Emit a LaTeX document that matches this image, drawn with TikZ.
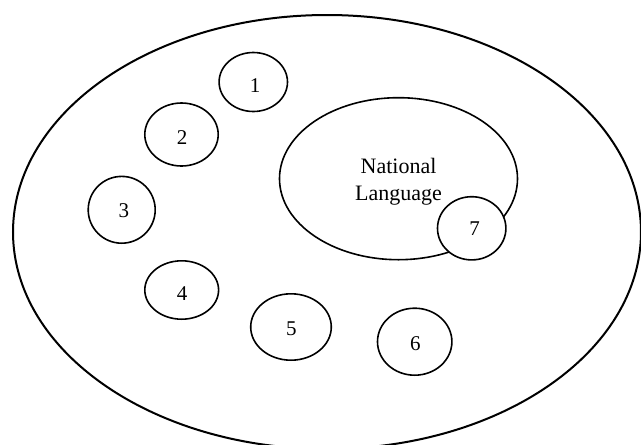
\documentclass[tikz,border=0pt]{standalone}
\usepackage{fontspec}
\setmainfont{Liberation Serif}
\usetikzlibrary{shapes.geometric}
\tikzset{
  blob/.style={draw=black, line width=1.6pt, ellipse, fill=white, inner sep=0pt},
  num/.style={inner sep=0pt, font=\fontsize{21}{25}\selectfont},
}
\begin{document}
\begin{tikzpicture}[x=1pt,y=-1pt]
\useasboundingbox (0,0) rectangle (641,445);
\clip (0,0) rectangle (641,445);
\node[draw=black, line width=2pt, ellipse, inner sep=0pt, minimum width=628pt, minimum height=434pt] (world) at (327,232) {};
\node[blob, minimum width=238pt, minimum height=162pt] (nl) at (398.5,178.7) {};
\node[inner sep=0pt, align=center, font=\fontsize{22}{27}\selectfont] (nltext) at (398.5,181.5) {National\\Language};
\node[blob, minimum width=68.4pt, minimum height=59pt] (c1) at (253.3,82) {};
\node[blob, minimum width=73.4pt, minimum height=63pt] (c2) at (181.5,134.5) {};
\node[blob, minimum width=67pt, minimum height=66.8pt] (c3) at (121.7,209.8) {};
\node[blob, minimum width=73.8pt, minimum height=58.4pt] (c4) at (181.7,290) {};
\node[blob, minimum width=80.6pt, minimum height=66.4pt] (c5) at (291,327) {};
\node[blob, minimum width=74.4pt, minimum height=67pt] (c6) at (414.7,341.7) {};
\node[blob, minimum width=68.4pt, minimum height=63.2pt] (c7) at (471.7,228.3) {};
\node[num] (t1) at (255,85.5) {1};
\node[num] (t2) at (182,137.5) {2};
\node[num] (t3) at (123.8,210.5) {3};
\node[num] (t4) at (182,293.7) {4};
\node[num] (t5) at (291.3,329) {5};
\node[num] (t6) at (415.3,343.3) {6};
\node[num] (t7) at (474.7,229) {7};
\end{tikzpicture}
\end{document}
